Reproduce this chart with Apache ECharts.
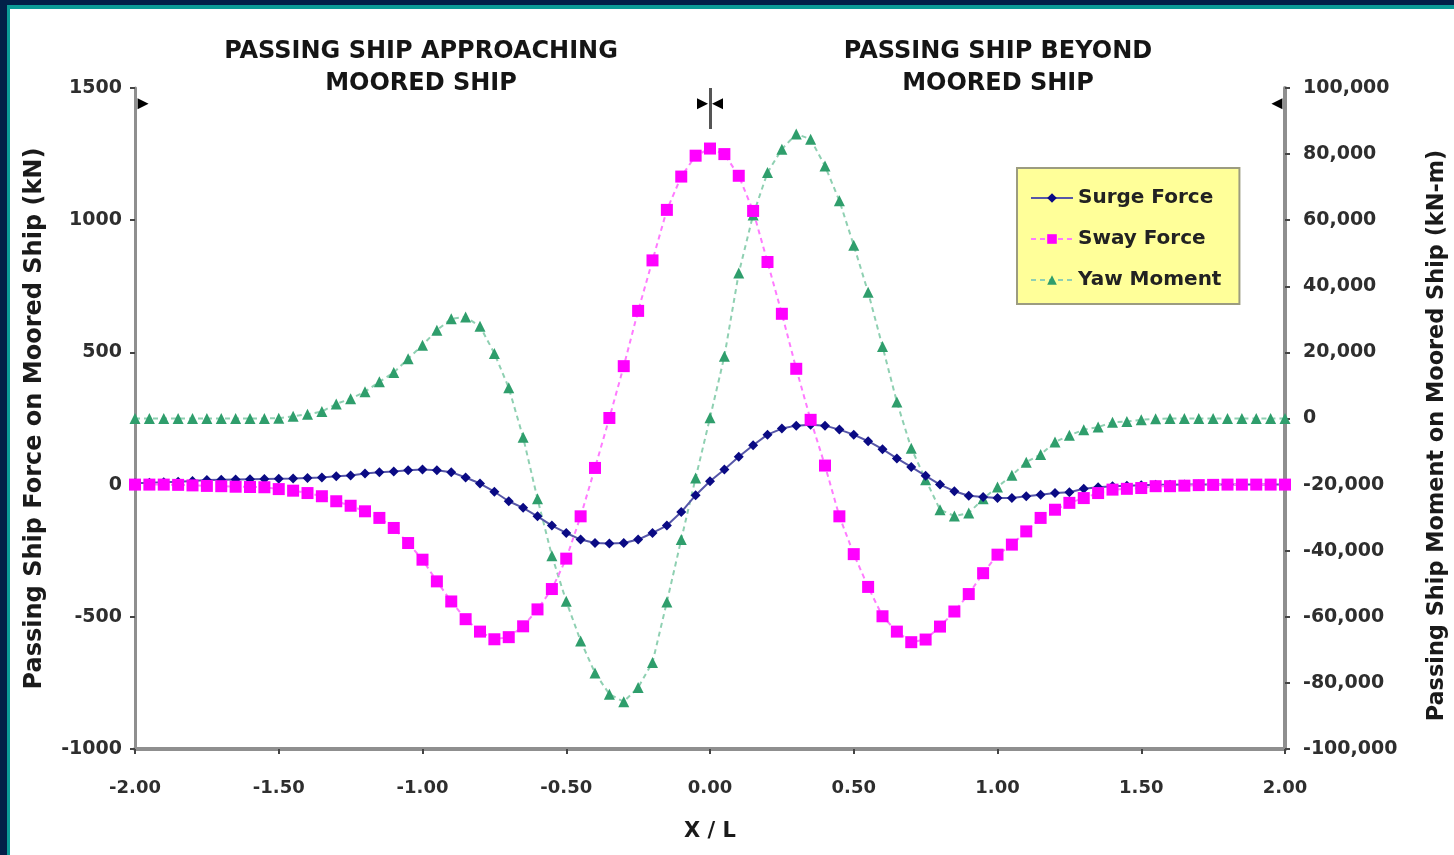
<!DOCTYPE html>
<html><head><meta charset="utf-8">
<script src="https://cdn.jsdelivr.net/npm/echarts@6/dist/echarts.min.js"></script>
<style>
html,body{margin:0;padding:0;background:#fff;overflow:hidden;}
#chart{position:absolute;left:0;top:0;width:1454px;height:855px;}
.bar{position:absolute;pointer-events:none;}
</style></head><body>
<div id="chart"></div>
<div class="bar" style="left:0;top:5px;width:1454px;height:4px;background:#0b9c97"></div>
<div class="bar" style="left:7px;top:5px;width:3px;height:850px;background:#0b9c97"></div>
<div class="bar" style="left:0;top:0;width:1454px;height:5px;background:#022048"></div>
<div class="bar" style="left:0;top:0;width:7px;height:855px;background:#022048"></div>
<script>
// X / L positions
var xPos = [-2.00,-1.95,-1.90,-1.85,-1.80,-1.75,-1.70,-1.65,-1.60,-1.55,
  -1.50,-1.45,-1.40,-1.35,-1.30,-1.25,-1.20,-1.15,-1.10,-1.05,
  -1.00,-0.95,-0.90,-0.85,-0.80,-0.75,-0.70,-0.65,-0.60,-0.55,
  -0.50,-0.45,-0.40,-0.35,-0.30,-0.25,-0.20,-0.15,-0.10,-0.05,
  0.00,0.05,0.10,0.15,0.20,0.25,0.30,0.35,0.40,0.45,
  0.50,0.55,0.60,0.65,0.70,0.75,0.80,0.85,0.90,0.95,
  1.00,1.05,1.10,1.15,1.20,1.25,1.30,1.35,1.40,1.45,
  1.50,1.55,1.60,1.65,1.70,1.75,1.80,1.85,1.90,1.95,
  2.00];
// Surge Force (kN)
var surge = [5,7,9,11,14,17,18,19,20,21,
  22,23,25,27,32,34,42,47,50,54,
  57,54,47,27,4,-27,-63,-88,-120,-155,
  -183,-208,-221,-223,-221,-208,-183,-155,-104,-40,
  13,57,105,149,189,212,223,226,223,208,
  189,164,134,99,67,33,0,-25,-42,-47,
  -51,-51,-44,-38,-32,-29,-16,-10,-6,-4,
  -2,-1,-1,0,0,0,0,0,0,0,
  0];
// Sway Force (kN)
var sway = [0,0,0,-1,-3,-5,-6,-8,-9,-10,
  -17,-23,-32,-44,-63,-80,-101,-126,-164,-221,
  -284,-366,-442,-509,-556,-585,-577,-536,-472,-395,
  -280,-120,63,252,448,657,848,1039,1165,1244,
  1271,1250,1168,1035,842,646,438,245,72,-120,
  -263,-387,-498,-556,-596,-586,-537,-480,-414,-335,
  -265,-227,-177,-126,-95,-69,-51,-32,-19,-16,
  -13,-6,-6,-4,-2,-1,0,0,0,0,
  0];
// Yaw Moment (kN-m)
var yaw = [0,0,0,0,0,0,0,0,0,0,
  100,700,1300,2100,4400,6000,8100,11100,13900,18100,
  22200,26700,30200,30700,27900,19700,9300,-5700,-24300,-41500,
  -55300,-67300,-77000,-83400,-85700,-81400,-73800,-55500,-36600,-18000,
  200,18800,44000,61600,74400,81500,86100,84500,76400,65900,
  52400,38200,21800,5000,-9000,-18500,-27600,-29500,-28600,-24300,
  -20700,-17200,-13200,-10900,-7100,-5100,-3400,-2600,-1100,-900,
  -400,-100,0,0,0,0,0,0,0,0,
  0];
var seriesNames = ['Surge Force','Sway Force','Yaw Moment'];
var titleLeft = 'PASSING SHIP APPROACHING\nMOORED SHIP';
var titleRight = 'PASSING SHIP BEYOND\nMOORED SHIP';
var xName = 'X / L';
var yLeftName = 'Passing Ship Force on Moored Ship (kN)';
var yRightName = 'Passing Ship Moment on Moored Ship (kN-m)';
// range markers (x position, left-axis value, rotation)
var markerArrows = [[-1.972,1440,-90],[-0.026,1440,-90],[0.026,1440,90],[1.972,1440,90]];
var markerLine = [[0,1500],[0,1345]];

function pairs(ys){ return xPos.map(function(x,i){ return [x, ys[i]]; }); }
function commas(v){ var s=Math.abs(v).toString().replace(/\B(?=(\d{3})+(?!\d))/g, ','); return (v<0?'-':'')+s; }
function plain(v){ return String(v); }

var FONT = 'DejaVu Sans';
var labelColor = '#2e2e2e';
var chart = echarts.init(document.getElementById('chart'), null, {renderer:'canvas'});
chart.setOption({
  animation:false,
  backgroundColor:'#ffffff',
  title:[
    {text:titleLeft, left:416, top:31, textAlign:'center',
     textStyle:{fontFamily:FONT,fontWeight:'bold',fontSize:24,color:'#151515',lineHeight:32,align:'center'}},
    {text:titleRight, left:993, top:31, textAlign:'center',
     textStyle:{fontFamily:FONT,fontWeight:'bold',fontSize:24,color:'#151515',lineHeight:32,align:'center'}}
  ],
  legend:{
    data:seriesNames, orient:'vertical', left:1017, top:168,
    padding:[20,18,14,13], itemGap:21, itemWidth:42, itemHeight:12,
    backgroundColor:'#ffff99', borderColor:'#9c9c80', borderWidth:2,
    textStyle:{fontFamily:FONT,fontWeight:'bold',fontSize:20,color:'#222'}
  },
  grid:{left:135,right:169,top:88,bottom:106,containLabel:false,outerBoundsMode:'none'},
  xAxis:{
    type:'value', min:-2, max:2, interval:0.5,
    name:xName, nameLocation:'middle', nameGap:72,
    nameTextStyle:{fontFamily:FONT,fontWeight:'bold',fontSize:21,color:'#1a1a1a'},
    axisLine:{onZero:false,lineStyle:{color:'#8f8f8f',width:4}},
    axisTick:{show:true,inside:false,length:5,lineStyle:{color:'#444',width:2}},
    splitLine:{show:false},
    axisLabel:{margin:30,fontFamily:FONT,fontWeight:'bold',fontSize:18,color:labelColor,
      formatter:function(v){return v.toFixed(2);}}
  },
  yAxis:[
    {type:'value', min:-1000, max:1500, interval:500, position:'left',
     name:yLeftName, nameLocation:'middle', nameGap:88, nameRotate:90,
     nameTextStyle:{fontFamily:FONT,fontWeight:'bold',fontSize:24,color:'#1a1a1a'},
     axisLine:{show:true,onZero:false,lineStyle:{color:'#8f8f8f',width:3}},
     axisTick:{show:true,length:5,lineStyle:{color:'#444',width:2}},
     splitLine:{show:false},
     axisLabel:{margin:13,fontFamily:FONT,fontWeight:'bold',fontSize:19,color:labelColor,formatter:plain}},
    {type:'value', min:-100000, max:100000, interval:20000, position:'right',
     name:yRightName, nameLocation:'middle', nameGap:141, nameRotate:90,
     nameTextStyle:{fontFamily:FONT,fontWeight:'bold',fontSize:22.4,color:'#1a1a1a',padding:[0,34,0,0]},
     axisLine:{show:true,onZero:false,lineStyle:{color:'#8f8f8f',width:4}},
     axisTick:{show:true,length:5,lineStyle:{color:'#444',width:2}},
     splitLine:{show:false},
     axisLabel:{margin:18,fontFamily:FONT,fontWeight:'bold',fontSize:19,color:labelColor,formatter:commas}}
  ],
  series:[
    {name:'Yaw Moment', type:'line', yAxisIndex:1, data:pairs(yaw),
     symbol:'triangle', symbolSize:11, showAllSymbol:true,
     itemStyle:{color:'#2f9e6c'},
     lineStyle:{color:'#8fd0b2',width:2,type:[5,4]}, z:2},
    {name:'Surge Force', type:'line', yAxisIndex:0, data:pairs(surge),
     symbol:'diamond', symbolSize:10, showAllSymbol:true,
     itemStyle:{color:'#0a0a84'},
     lineStyle:{color:'#5656a8',width:2}, z:3},
    {name:'Sway Force', type:'line', yAxisIndex:0, data:pairs(sway),
     symbol:'rect', symbolSize:12, showAllSymbol:true,
     itemStyle:{color:'#ff00ff'},
     lineStyle:{color:'#ff7aff',width:2,type:[5,4]}, z:4},
    {name:'markers', type:'line', yAxisIndex:0, data:[], silent:true,
     markLine:{silent:true, symbol:['none','none'], label:{show:false},
       lineStyle:{color:'#555',width:3,type:'solid'},
       data:[[{coord:markerLine[0]},{coord:markerLine[1]}]]},
     markPoint:{silent:true, symbol:'triangle', symbolSize:[11,11], label:{show:false},
       itemStyle:{color:'#000'},
       data:markerArrows.map(function(a){return {coord:[a[0],a[1]], symbolRotate:a[2]};})}}
  ]
});
</script>
</body></html>
